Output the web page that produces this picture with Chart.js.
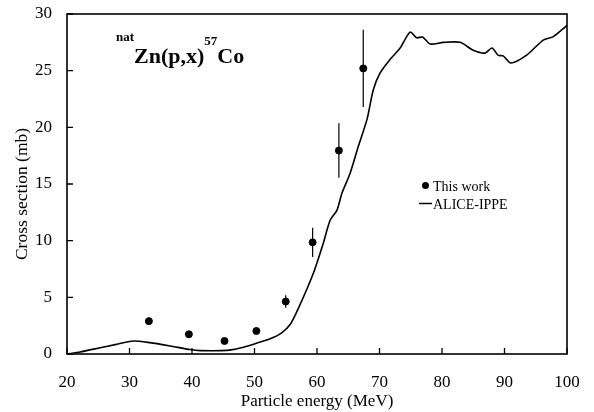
<!DOCTYPE html>
<html>
<head>
<meta charset="utf-8">
<script src="https://cdn.jsdelivr.net/npm/chart.js@4"></script>
<style>
  html, body { margin: 0; padding: 0; background: #fff; }
  #wrap { width: 594px; height: 412px; }
</style>
</head>
<body>
<div id="wrap"><canvas id="chart"></canvas></div>
<script>
// natZn(p,x)57Co cross section: measured points vs ALICE-IPPE calculation

// ── Data ──────────────────────────────────────────────────────────────────────
const expEnergy = [33.1, 39.5, 45.2, 50.3, 55.0, 59.3, 63.5, 67.4];
const expXs     = [2.9, 1.74, 1.15, 2.03, 4.63, 9.85, 17.95, 25.2];
const expErr    = [0.3, 0.1, 0.1, 0.1, 0.55, 1.3, 2.4, 3.4];

const calcEnergy = [20, 22.1, 25.3, 27.7, 30.6, 33.3, 36.5, 39.7, 41.3, 45.6,
  47.7, 50.4, 52.5, 54.3, 55.7, 57.0, 59.4, 61.0, 62.1, 63.2, 64.0, 65.3, 66.6,
  68.0, 69.0, 70.1, 71.7, 73.3, 74.9, 75.95, 76.9, 78.1, 80.2, 82.9, 85.0, 86.9,
  88.0, 89.0, 89.8, 91.0, 93.6, 96.2, 97.8, 100];
const calcXs = [0, 0.18, 0.55, 0.83, 1.15, 1.0, 0.71, 0.39, 0.3, 0.32,
  0.53, 0.97, 1.35, 1.85, 2.6, 4.0, 7.1, 9.76, 11.8, 12.7, 14.2, 15.95, 18.3,
  20.7, 23.3, 24.8, 26.0, 27.0, 28.4, 27.9, 27.97, 27.35, 27.5, 27.5, 26.8, 26.55,
  27.0, 26.35, 26.3, 25.67, 26.4, 27.7, 28.0, 29.0];

const xTicks = [20, 30, 40, 50, 60, 70, 80, 90, 100];
const yTicks = [0, 5, 10, 15, 20, 25, 30];

const SERIF = '"Liberation Serif", "DejaVu Serif", serif';

// ── Plugins ───────────────────────────────────────────────────────────────────

// frame, inward ticks and error bars
const framePlugin = {
  id: 'frame',
  afterDatasetsDraw(chart) {
    const { ctx, chartArea: a, scales: { x, y } } = chart;
    ctx.save();
    ctx.strokeStyle = '#000';

    // error bars
    ctx.lineWidth = 1.2;
    expEnergy.forEach((e, i) => {
      const px = x.getPixelForValue(e);
      ctx.beginPath();
      ctx.moveTo(px, y.getPixelForValue(expXs[i] - expErr[i]));
      ctx.lineTo(px, y.getPixelForValue(expXs[i] + expErr[i]));
      ctx.stroke();
    });

    // frame
    ctx.lineWidth = 1.6;
    ctx.strokeRect(a.left, a.top, a.right - a.left, a.bottom - a.top);

    // inward ticks
    ctx.lineWidth = 1.3;
    ctx.beginPath();
    xTicks.forEach(v => {
      const px = x.getPixelForValue(v);
      ctx.moveTo(px, a.bottom);
      ctx.lineTo(px, a.bottom - 6);
    });
    yTicks.forEach(v => {
      const py = y.getPixelForValue(v);
      ctx.moveTo(a.left, py);
      ctx.lineTo(a.left + 6, py);
    });
    ctx.stroke();
    ctx.restore();
  }
};

// reaction label, y title and legend inside the plot
const labelPlugin = {
  id: 'labels',
  afterDraw(chart) {
    const { ctx } = chart;
    ctx.save();
    ctx.fillStyle = '#000';
    ctx.textAlign = 'left';
    ctx.textBaseline = 'alphabetic';

    // natZn(p,x)57Co
    let cx = 116;
    const parts = [
      { t: 'nat', size: 13, base: 41 },
      { t: 'Zn(p,x)', size: 22, base: 62.5 },
      { t: '57', size: 13, base: 45 },
      { t: 'Co', size: 22, base: 62.5 }
    ];
    parts.forEach(p => {
      ctx.font = `bold ${p.size}px ${SERIF}`;
      ctx.fillText(p.t, cx, p.base);
      cx += ctx.measureText(p.t).width;
    });

    // y axis title
    ctx.save();
    ctx.translate(27, 194);
    ctx.rotate(-Math.PI / 2);
    ctx.textAlign = 'center';
    ctx.font = `17.5px ${SERIF}`;
    ctx.fillText('Cross section (mb)', 0, 0);
    ctx.restore();

    // legend
    ctx.font = `14px ${SERIF}`;
    ctx.beginPath();
    ctx.arc(425.5, 185.5, 3.5, 0, Math.PI * 2);
    ctx.fill();
    ctx.fillText(chart.data.datasets[1].label, 433, 190.5);

    ctx.strokeStyle = '#000';
    ctx.lineWidth = 1.5;
    ctx.beginPath();
    ctx.moveTo(419, 203.5);
    ctx.lineTo(432, 203.5);
    ctx.stroke();
    ctx.fillText(chart.data.datasets[0].label, 433, 208.5);
    ctx.restore();
  }
};

// ── Chart ─────────────────────────────────────────────────────────────────────

const axisFont = { family: SERIF, size: 17 };

new Chart(document.getElementById('chart'), {
  type: 'scatter',
  data: {
    datasets: [
      {
        label: 'ALICE-IPPE',
        data: calcEnergy.map((e, i) => ({ x: e, y: calcXs[i] })),
        showLine: true,
        borderColor: '#000',
        borderWidth: 1.6,
        pointRadius: 0,
        tension: 0.25,
        order: 2
      },
      {
        label: 'This work',
        data: expEnergy.map((e, i) => ({ x: e, y: expXs[i] })),
        showLine: false,
        backgroundColor: '#000',
        borderColor: '#000',
        pointRadius: 3.5,
        order: 1
      }
    ]
  },
  options: {
    responsive: true,
    maintainAspectRatio: false,
    animation: false,
    layout: { padding: { top: 14, right: 27, left: 0, bottom: 0 } },
    plugins: {
      legend: { display: false },
      tooltip: { enabled: false }
    },
    scales: {
      x: {
        type: 'linear',
        min: 20,
        max: 100,
        afterFit: s => { s.height = 58; s.paddingLeft = 0; s.paddingRight = 0; },
        afterBuildTicks: s => { s.ticks = xTicks.map(v => ({ value: v })); },
        grid: { display: false },
        border: { display: false },
        ticks: { color: '#000', font: axisFont, padding: 10, maxRotation: 0 },
        title: {
          display: true,
          text: 'Particle energy (MeV)',
          color: '#000',
          font: axisFont,
          padding: { top: 0, bottom: 0 }
        }
      },
      y: {
        min: 0,
        max: 30,
        afterFit: s => { s.width = 67; s.paddingTop = 0; s.paddingBottom = 0; },
        afterBuildTicks: s => { s.ticks = yTicks.map(v => ({ value: v })); },
        grid: { display: false },
        border: { display: false },
        ticks: { color: '#000', font: axisFont, padding: 7 },
        title: { display: false }
      }
    }
  },
  plugins: [framePlugin, labelPlugin]
});
</script>
</body>
</html>
